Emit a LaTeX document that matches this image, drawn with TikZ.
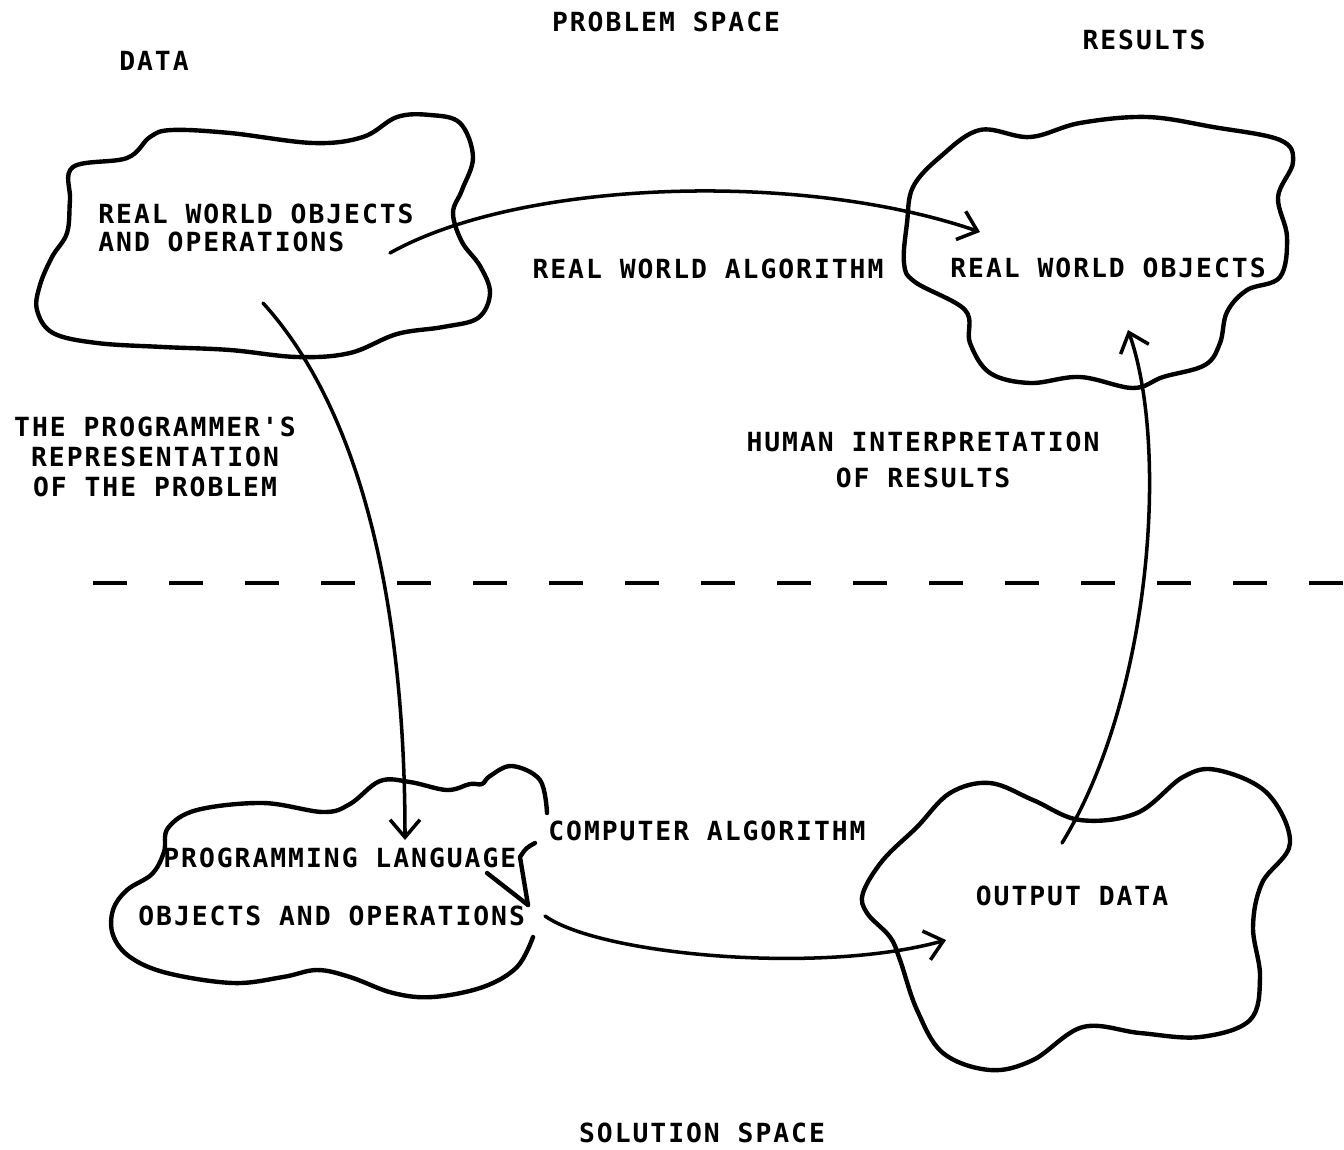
\documentclass[tikz,border=0pt]{standalone}
\usepackage{fontspec}
\newfontfamily\plotfont{DejaVu Sans Mono}[LetterSpace=7.5]
\usetikzlibrary{arrows.meta}
\begin{document}
\begin{tikzpicture}[x=0.02cm, y=-0.02cm, labelStyle/.style={inner sep=0pt, font=\plotfont\bfseries\fontsize{15}{15.5}\selectfont}, cloudStyle/.style={line width=2.5pt, line join=round, line cap=round}, flowStyle/.style={line width=2pt, line cap=round, -{Straight Barb[length=10pt, width=17pt, line width=2pt]}}, divideStyle/.style={line width=2.4pt, dash pattern=on 0.68cm off 0.84cm}]
                    \useasboundingbox (0,0) rectangle (1344,1149);

                    \node[labelStyle] (problem_T) at ( 666,  22) {PROBLEM SPACE};
                    \node[labelStyle] (data_T)    at ( 154,  61) {DATA};
                    \node[labelStyle] (results_T) at (1144,  40) {RESULTS};
                    \node[labelStyle] (solution_T) at (702, 1133) {SOLUTION SPACE};

                    \draw[cloudStyle] plot[smooth cycle, tension=0.6] coordinates {(73,167) (127,158) (150,137) (172,130) (230,133) (313,143) (363,137) (397,117) (430,115) (460,123) (473,157) (462,190) (453,213) (462,242) (480,266) (490,293) (478,318) (443,327) (397,334) (350,353) (297,357) (230,350) (163,347) (97,343) (53,333) (37,310) (40,285) (52,257) (67,233) (70,200)};
                    \node[labelStyle, anchor=west, align=left] (rwOps_0) at (98, 228) {REAL WORLD OBJECTS\\AND OPERATIONS};

                    \draw[cloudStyle] plot[smooth cycle, tension=0.6] coordinates {(913,187) (940,157) (980,130) (1030,137) (1080,123) (1147,117) (1213,127) (1280,140) (1293,162) (1278,197) (1287,237) (1280,277) (1247,290) (1227,312) (1220,343) (1205,365) (1163,377) (1133,388) (1080,377) (1030,383) (990,373) (970,343) (965,310) (915,282) (904,263) (907,223)};
                    \node[labelStyle] (rwObj_0) at (1108, 268) {REAL WORLD OBJECTS};

                    \draw[cloudStyle] plot[smooth, tension=0.6] coordinates {(547,813) (540,780) (512,766) (490,776) (482,784) (470,784) (447,790) (410,782) (380,781) (350,804) (323,812) (263,803) (197,810) (168,828) (164,852) (152,874) (127,890) (113,910) (113,935) (130,957) (167,973) (233,983) (283,977) (317,970) (350,977) (393,993) (433,997) (483,987) (517,967) (533,937)};
                    \draw[cloudStyle] (535,843) .. controls (526,848) .. (520,857) -- (528,905);
                    \draw[cloudStyle] (487,873) -- (528,905);
                    \node[labelStyle, anchor=west] (plObj_0) at (163, 858) {PROGRAMMING LANGUAGE};
                    \node[labelStyle, anchor=west] (plObj_1) at (138, 916) {OBJECTS AND OPERATIONS};

                    \draw[cloudStyle] plot[smooth cycle, tension=0.6] coordinates {(863,893) (883,860) (917,827) (950,793) (990,783) (1033,800) (1080,820) (1137,813) (1183,777) (1217,770) (1267,793) (1290,843) (1262,883) (1253,927) (1260,977) (1250,1020) (1200,1037) (1140,1033) (1083,1027) (1033,1060) (990,1070) (943,1053) (917,1010) (900,960) (890,937) (867,913)};
                    \node[labelStyle] (outData_0) at (1072, 896) {OUTPUT DATA};

                    \node[labelStyle] (rwAlg_T)   at ( 708, 269) {REAL WORLD ALGORITHM};
                    \node[labelStyle, align=center] (progRep_T) at (155, 457) {THE PROGRAMMER'S\\[1.5pt]REPRESENTATION\\[1.5pt]OF THE PROBLEM};
                    \node[labelStyle, align=center] (human_T) at (923, 460) {HUMAN INTERPRETATION\\[5pt]OF RESULTS};
                    \node[labelStyle, anchor=west] (compAlg_T) at (548, 831) {COMPUTER ALGORITHM};

                    \coordinate (div_W) at (93, 583);
                    \coordinate (div_E) at (1344, 583);
                    \draw[divideStyle] (div_W) -- (div_E);

                    \coordinate (rwAlg_S) at (390, 253);
                    \coordinate (rwAlg_E) at (980, 232);
                    \coordinate (progRep_S) at (263, 303);
                    \coordinate (progRep_E) at (405, 840);
                    \coordinate (compAlg_S) at (545, 916);
                    \coordinate (compAlg_E) at (946, 940);
                    \coordinate (human_S) at (1062, 843);
                    \coordinate (human_E) at (1128, 330);

                    \draw[flowStyle] (rwAlg_S) .. controls (520,180) and (800,170) .. (rwAlg_E);
                    \draw[flowStyle] (progRep_S) .. controls (360,410) and (405,600) .. (progRep_E);
                    \draw[flowStyle] (compAlg_S) .. controls (600,955) and (820,975) .. (compAlg_E);
                    \draw[flowStyle] (human_S) .. controls (1150,700) and (1170,450) .. (human_E);
                \end{tikzpicture}
\end{document}
